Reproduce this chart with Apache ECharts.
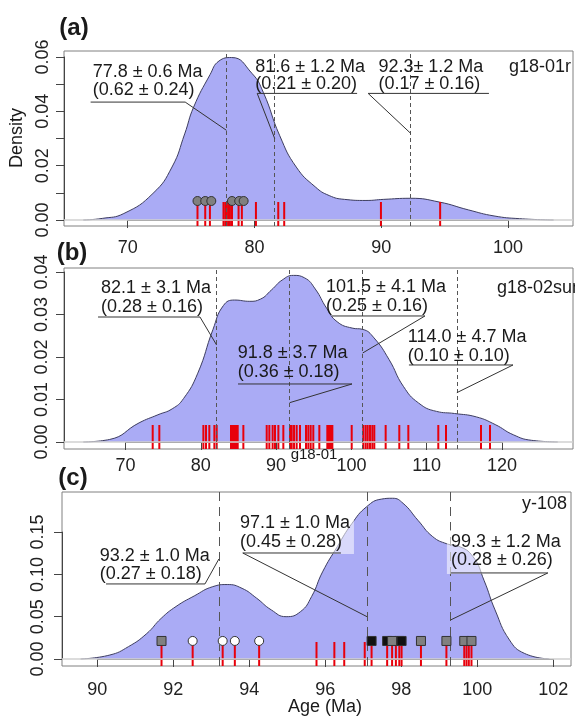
<!DOCTYPE html>
<html>
<head>
<meta charset="utf-8">
<title>Age spectra</title>
<script src="https://cdn.jsdelivr.net/npm/echarts@6.0.0/dist/echarts.min.js"></script>
<style>
  html, body { margin: 0; padding: 0; background: #fff; }
  #main { width: 575px; height: 719px; }
</style>
</head>
<body>
<div id="main"></div>
<script>
// (a) g18-01r : density curve, single-grain ages, peaks
const densAgeA = [66.5, 68.0, 69.7, 72.0, 73.5, 74.5, 75.2, 76.5, 77.2, 78.2, 79.8, 80.7, 82.0, 83.3, 84.8, 85.9, 87.1, 88.8, 90.2, 92.3, 94.6, 96.9, 98.9, 100.9, 103.6]
const densValA = [0, 0.0006, 0.0024, 0.0098, 0.0195, 0.0317, 0.0415, 0.0535, 0.0585, 0.0598, 0.0540, 0.0470, 0.0310, 0.0195, 0.0122, 0.0090, 0.0076, 0.0072, 0.0076, 0.0080, 0.0066, 0.0037, 0.0015, 0.0005, 0]
const rugA = [75.51, 76.12, 76.49, 77.56, 77.70, 77.83, 77.96, 78.07, 78.23, 78.75, 79.01, 80.12, 81.88, 82.35, 89.98, 94.65]
const circleA = [75.51, 76.12, 76.6, 78.23, 78.8, 79.15]
const peaksA = [77.8, 81.6, 92.3]
const peakTextA = ['77.8 ± 0.6 Ma', '81.6 ± 1.2 Ma', '92.3± 1.2 Ma']
const propTextA = ['(0.62 ± 0.24)', '(0.21 ± 0.20)', '(0.17 ± 0.16)']

// (b) g18-02sum
const densAgeB = [64.4, 67.9, 71.8, 74.3, 76.2, 77.7, 79.6, 81.6, 83.0, 84.5, 86.5, 87.9, 89.4, 90.8, 92.3, 93.8, 95.2, 96.7, 98.1, 100.1, 101.5, 103.0, 105.0, 106.9, 108.9, 111.3, 113.7, 116.6, 119.1, 121.5, 123.9, 127.4]
const densValB = [0, 0.0006, 0.0045, 0.0064, 0.0078, 0.0102, 0.0162, 0.0264, 0.0321, 0.0334, 0.0331, 0.0336, 0.0358, 0.0381, 0.0392, 0.0386, 0.0360, 0.0315, 0.0283, 0.0268, 0.0265, 0.0245, 0.0194, 0.0131, 0.0092, 0.0072, 0.0067, 0.0059, 0.0041, 0.0017, 0.0004, 0]
const rugB = [73.61, 74.49, 80.34, 80.69, 81.13, 81.8, 82.11, 84.01, 84.12, 84.23, 84.35, 84.45, 84.55, 84.67, 84.8, 84.9, 85.65, 88.75, 89.1, 89.54, 89.85, 90.3, 90.96, 91.85, 92.07, 92.38, 92.73, 93.17, 93.97, 94.28, 94.59, 94.94, 95.74, 96.8, 96.9, 97.02, 97.1, 97.24, 97.35, 97.47, 100.04, 101.58, 101.89, 102.16, 102.47, 102.78, 103.04, 104.55, 106.36, 107.56, 111.54, 112.56, 117.21, 118.41]
const peaksB = [82.1, 91.8, 101.5, 114.0]
const peakTextB = ['82.1 ± 3.1 Ma', '91.8 ± 3.7 Ma', '101.5 ± 4.1 Ma', '114.0 ± 4.7 Ma']
const propTextB = ['(0.28 ± 0.16)', '(0.36 ± 0.18)', '(0.25 ± 0.16)', '(0.10 ± 0.10)']

// (c) y-108
const densAgeC = [89.56, 90.33, 90.82, 91.3, 91.68, 92.07, 92.55, 93.04, 93.42, 93.81, 94.19, 94.58, 94.97, 95.35, 95.64, 95.93, 96.32, 96.7, 97.09, 97.48, 97.77, 98.05, 98.44, 98.83, 99.21, 99.5, 99.89, 100.18, 100.47, 100.85, 101.24, 101.9]
const densValC = [0, 0.0047, 0.0146, 0.030, 0.048, 0.062, 0.0745, 0.0855, 0.088, 0.0835, 0.072, 0.058, 0.050, 0.056, 0.0737, 0.103, 0.133, 0.160, 0.180, 0.189, 0.190, 0.184, 0.164, 0.1446, 0.136, 0.1335, 0.121, 0.093, 0.058, 0.0225, 0.0067, 0]
const rugC = [91.69, 92.51, 93.3, 93.62, 94.26, 95.77, 96.24, 96.5, 97.04, 97.22, 97.63, 97.76, 97.86, 97.95, 98.01, 98.52, 99.19, 99.66, 99.72, 99.78, 99.85]
const grayBoxC = [91.69, 98.52, 99.19, 99.66, 99.85]
const blackBoxC = [97.22, 97.63, 97.95, 98.01]
const grayOnBlackC = [97.76]
const whiteDotC = [92.51, 93.3, 93.62, 94.26]
const peaksC = [93.2, 97.1, 99.3]
const peakTextC = ['93.2 ± 1.0 Ma', '97.1 ± 1.0 Ma', '99.3 ± 1.2 Ma']
const propTextC = ['(0.27 ± 0.18)', '(0.45 ± 0.28)', '(0.28 ± 0.26)']

// layout of the peak labels, in data units of each panel
const annoLayoutA = [
  { tx: 67.24, ty1: 0.0545, ty2: 0.0478, uy: 0.0434, ux1: 67.08, ux2: 74.54, from: 'right', tipY: 0.033 },
  { tx: 80.06, ty1: 0.0563, ty2: 0.0501, uy: 0.0466, ux1: 80.22, ux2: 88.1, from: 'left', tipY: 0.030 },
  { tx: 89.78, ty1: 0.0563, ty2: 0.0501, uy: 0.0466, ux1: 88.97, ux2: 98.5, from: 'left', tipY: 0.032 }
]
const annoLayoutB = [
  { tx: 66.75, ty1: 0.03624, ty2: 0.03176, uy: 0.02941, ux1: 66.35, ux2: 79.89, from: 'right', tipY: 0.02282 },
  { tx: 84.89, ty1: 0.02094, ty2: 0.01647, uy: 0.01365, ux1: 84.94, ux2: 100.08, from: 'right', tipY: 0.00925 },
  { tx: 96.63, ty1: 0.03647, ty2: 0.032, uy: 0.02965, ux1: 97.42, ux2: 109.77, from: 'right', tipY: 0.02094 },
  { tx: 107.49, ty1: 0.02471, ty2: 0.02024, uy: 0.01812, ux1: 107.64, ux2: 121.46, from: 'right', tipY: 0.0116 }
]
const annoLayoutC = [
  { tx: 90.063, ty1: 0.1217, ty2: 0.1005, uy: 0.0887, ux1: 90.229, ux2: 92.834, from: 'right', tipY: 0.1182, bw: 120 },
  { tx: 93.755, ty1: 0.1608, ty2: 0.1383, uy: 0.1253, ux1: 93.829, ux2: 96.413, from: 'left', tipY: 0.05, bw: 118 },
  { tx: 99.308, ty1: 0.1383, ty2: 0.117, uy: 0.1017, ux1: 99.308, ux2: 101.861, from: 'right', tipY: 0.0461, bw: 122 }
]

const FONT = '"Liberation Sans", Arial, Helvetica, sans-serif'
const FILL = '#aaabf5'
const RED = '#e8000b'
const RUG_LEN = 24

// plot boxes (pixels) with their data ranges, and the labelled tick range
const frames = [
  { left: 64, top: 51, width: 509, height: 175, x: [64.98, 105.13], y: [-0.0022, 0.0622], tx: [70, 100, 10], ty: [0, 0.06, 0.01], xGap: 13, yGap: 12,
    fmt: v => (Math.round(v * 100) % 2 === 0 ? v.toFixed(2) : '') },
  { left: 64, top: 268, width: 509, height: 181, x: [61.83, 129.43], y: [-0.00165, 0.04094], tx: [70, 120, 10], ty: [0, 0.04, 0.01], xGap: 8, yGap: 13,
    fmt: v => v.toFixed(2) },
  { left: 62, top: 492, width: 509, height: 174, x: [89.07, 102.47], y: [-0.0083, 0.1974], tx: [90, 102, 2], ty: [0, 0.15, 0.05], xGap: 15, yGap: 15,
    fmt: v => v.toFixed(2) }
]

function tickGrid(f) {
  const sx = f.width / (f.x[1] - f.x[0])
  const sy = f.height / (f.y[1] - f.y[0])
  const left = f.left + (f.tx[0] - f.x[0]) * sx
  const right = f.left + (f.tx[1] - f.x[0]) * sx
  const top = f.top + (f.y[1] - f.ty[1]) * sy
  const bottom = f.top + (f.y[1] - f.ty[0]) * sy
  return { left, top, width: right - left, height: bottom - top }
}

const grids = []
const xAxes = []
const yAxes = []
const axisLine = { show: true, lineStyle: { color: '#444', width: 1 } }
const axisTick = { show: true, length: 8, lineStyle: { color: '#444', width: 1 } }
const labelBase = { fontSize: 18, fontFamily: FONT, color: '#222', showMinLabel: true, showMaxLabel: true, hideOverlap: false }

frames.forEach((f, k) => {
  const t = tickGrid(f)
  grids.push({ left: f.left, top: f.top, width: f.width, height: f.height, show: true, borderColor: '#808080', borderWidth: 1, backgroundColor: 'transparent', outerBoundsMode: 'none' })
  grids.push({ left: t.left, top: t.top, width: t.width, height: t.height, show: false, outerBoundsMode: 'none' })
  xAxes.push({ gridIndex: 2 * k, type: 'value', min: f.x[0], max: f.x[1], show: false })
  yAxes.push({ gridIndex: 2 * k, type: 'value', min: f.y[0], max: f.y[1], show: false })
  xAxes.push({
    gridIndex: 2 * k + 1, type: 'value', min: f.tx[0], max: f.tx[1], interval: f.tx[2], position: 'bottom',
    offset: (f.top + f.height) - (t.top + t.height),
    axisLine, axisTick, splitLine: { show: false },
    axisLabel: { ...labelBase, margin: f.xGap, formatter: v => String(Math.round(v)) }
  })
  yAxes.push({
    gridIndex: 2 * k + 1, type: 'value', min: f.ty[0], max: f.ty[1], interval: f.ty[2], position: 'left',
    offset: t.left - f.left,
    axisLine, axisTick, splitLine: { show: false },
    axisLabel: { ...labelBase, margin: f.yGap, rotate: 90, formatter: f.fmt }
  })
})

function densitySeries(ages, vals, peaks, idx, dash) {
  return {
    type: 'line', xAxisIndex: idx, yAxisIndex: idx, z: 2,
    data: ages.map((a, i) => [a, vals[i]]),
    smooth: 0.5, symbol: 'none',
    lineStyle: { color: '#3e3e60', width: 1 },
    areaStyle: { color: FILL, opacity: 1 },
    markLine: {
      silent: true, symbol: ['none', 'none'], label: { show: false },
      lineStyle: { color: '#555', width: 1, type: dash },
      data: [{ yAxis: 0, lineStyle: { color: '#d0d0d0', width: 1.5, type: 'solid' } }]
        .concat(peaks.map(p => ({ xAxis: p })))
    }
  }
}

function rugSeries(ages, idx) {
  return {
    type: 'custom', xAxisIndex: idx, yAxisIndex: idx, z: 4,
    data: ages.map(a => [a, 0]),
    renderItem: (params, api) => {
      const x = api.coord([api.value(0), 0])[0]
      const cs = params.coordSys
      const bottom = cs.y + cs.height
      return { type: 'line', shape: { x1: x, y1: bottom, x2: x, y2: bottom - RUG_LEN }, style: { stroke: RED, lineWidth: 2 } }
    }
  }
}

function markerSeries(ages, level, idx, symbol, color) {
  return {
    type: 'scatter', xAxisIndex: idx, yAxisIndex: idx, z: 5,
    data: ages.map(a => [a, level]),
    symbol, symbolSize: 9,
    itemStyle: { color, borderColor: '#333', borderWidth: 1, opacity: 1 }
  }
}

function annoSeries(peaks, peakText, propText, layout, idx, boxed) {
  return {
    type: 'custom', xAxisIndex: idx, yAxisIndex: idx, z: 6,
    data: peaks.map((p, i) => [p, i]),
    renderItem: (params, api) => {
      const i = params.dataIndex
      const L = layout[i]
      const tip = api.coord([api.value(0), L.tipY])
      const t1 = api.coord([L.tx, L.ty1])
      const t2 = api.coord([L.tx, L.ty2])
      const u1 = api.coord([L.ux1, L.uy])
      const u2 = api.coord([L.ux2, L.uy])
      const start = L.from === 'left' ? u1 : u2
      const txt = (s, p) => ({
        type: 'text', x: p[0], y: p[1],
        style: { text: s, fill: '#1a1a1a', fontSize: 18, fontFamily: FONT, align: 'left', textAlign: 'left', verticalAlign: 'middle', textVerticalAlign: 'middle' }
      })
      const stroke = { stroke: '#333', lineWidth: 1 }
      const children = []
      if (boxed) {
        children.push({ type: 'rect', shape: { x: t1[0] - 4, y: t1[1] - 12, width: L.bw, height: u1[1] - t1[1] + 13 }, style: { fill: 'rgba(255,255,255,0.55)' } })
      }
      children.push(txt(peakText[i], t1))
      children.push(txt(propText[i], t2))
      children.push({ type: 'line', shape: { x1: u1[0], y1: u1[1], x2: u2[0], y2: u2[1] }, style: stroke })
      children.push({ type: 'line', shape: { x1: start[0], y1: start[1], x2: tip[0], y2: tip[1] }, style: stroke })
      return { type: 'group', children }
    }
  }
}

const series = [
  densitySeries(densAgeA, densValA, peaksA, 0, [4, 3]),
  rugSeries(rugA, 0),
  markerSeries(circleA, 0.007, 0, 'circle', '#808080'),
  annoSeries(peaksA, peakTextA, propTextA, annoLayoutA, 0, false),

  densitySeries(densAgeB, densValB, peaksB, 2, [4, 3]),
  rugSeries(rugB, 2),
  annoSeries(peaksB, peakTextB, propTextB, annoLayoutB, 2, false),

  densitySeries(densAgeC, densValC, peaksC, 4, [9, 6]),
  rugSeries(rugC, 4),
  markerSeries(blackBoxC, 0.0213, 4, 'rect', '#111'),
  markerSeries(grayBoxC, 0.0213, 4, 'rect', '#808080'),
  markerSeries(grayOnBlackC, 0.0213, 4, 'rect', '#808080'),
  markerSeries(whiteDotC, 0.0213, 4, 'circle', '#ffffff'),
  annoSeries(peaksC, peakTextC, propTextC, annoLayoutC, 4, true)
]

const txtStyle = (text, size, extra) => ({ text, fontSize: size, fontFamily: FONT, fill: '#1a1a1a', ...extra })

const graphic = [
  { type: 'text', x: 74, y: 28, style: txtStyle('(a)', 24, { fontWeight: 'bold', align: 'center', verticalAlign: 'middle' }) },
  { type: 'text', x: 72, y: 253, style: txtStyle('(b)', 24, { fontWeight: 'bold', align: 'center', verticalAlign: 'middle' }) },
  { type: 'text', x: 73, y: 478, style: txtStyle('(c)', 24, { fontWeight: 'bold', align: 'center', verticalAlign: 'middle' }) },
  { type: 'text', x: 17, y: 138, rotation: Math.PI / 2, style: txtStyle('Density', 18, { align: 'center', verticalAlign: 'middle' }) },
  { type: 'text', x: 325, y: 707, style: txtStyle('Age (Ma)', 18, { align: 'center', verticalAlign: 'middle' }) },
  { type: 'text', x: 571, y: 67, style: txtStyle('g18-01r', 18, { align: 'right', verticalAlign: 'middle' }) },
  { type: 'text', x: 497, y: 288, style: txtStyle('g18-02sum', 18, { align: 'left', verticalAlign: 'middle' }) },
  { type: 'text', x: 567, y: 504, style: txtStyle('y-108', 18, { align: 'right', verticalAlign: 'middle' }) },
  { type: 'text', x: 314, y: 455, style: txtStyle('g18-01', 15, { align: 'center', verticalAlign: 'middle' }) }
]

const chart = echarts.init(document.getElementById('main'))
chart.setOption({
  animation: false,
  backgroundColor: '#fff',
  grid: grids,
  xAxis: xAxes,
  yAxis: yAxes,
  series,
  graphic
})
</script>
</body>
</html>
